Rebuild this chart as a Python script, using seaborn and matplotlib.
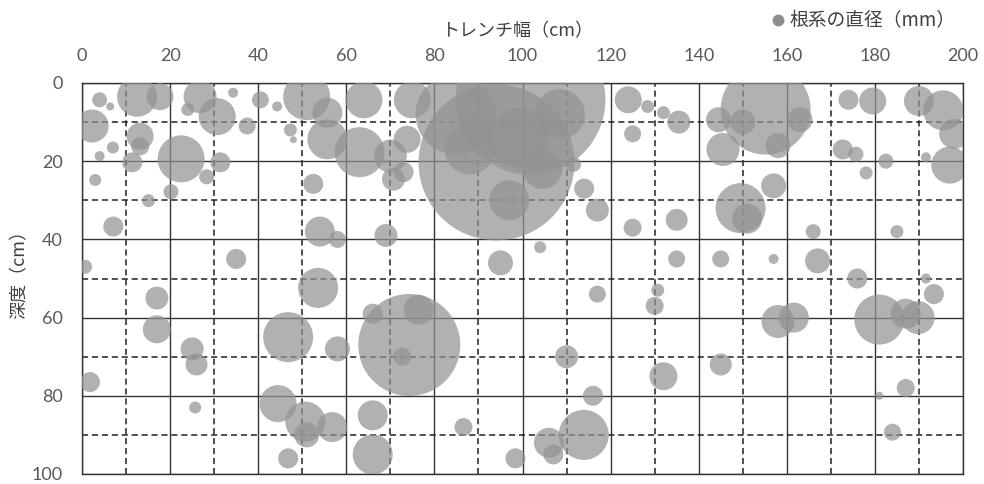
import numpy as np
import pandas as pd
import matplotlib
matplotlib.use("Agg")
import matplotlib.pyplot as plt
from matplotlib.lines import Line2D
from matplotlib.ticker import MultipleLocator
import seaborn as sns

# trench width position (cm)
width_cm = [4.0, 6.4, 2.3, 3.0, 7.1, 12.5, 17.7, 13.2, 7.0, 4.0, 11.4, 13.2, 22.5, 24.0, 26.8,
            30.7, 31.4, 28.3, 37.5, 34.3, 40.5, 47.3, 48.0, 44.3, 51.0, 55.7, 55.7, 63.0, 64.0,
            70.0, 73.8, 70.7, 73.0, 75.0, 15.1, 20.2, 35.0, 52.5, 54.0, 58.0, 69.0, 0.7,
            94.1, 101.8, 84.8, 99.0, 88.0, 104.5, 97.0, 111.6, 114.0, 117.0, 104.0, 95.0, 108.5,
            125.0, 135.5, 124.0, 128.4, 132.0, 145.5, 125.0, 135.0, 135.0, 145.0, 149.5, 151.0,
            157.0, 155.2, 144.5, 150.0, 158.0, 163.0, 174.0, 179.5, 172.7, 175.7, 182.5, 178.0,
            166.0, 185.0, 157.0, 167.0, 190.0, 195.5, 198.0, 191.6, 197.0,
            17.0, 17.0, 25.0, 26.0, 25.7, 1.8, 46.8, 44.5, 46.8, 53.6, 58.0, 74.3, 76.4, 66.0,
            72.7, 50.7, 56.8, 51.0, 66.0, 66.0, 86.6, 98.4,
            117.0, 130.7, 130.0, 110.0, 132.0, 145.0, 116.0, 113.9, 106.0, 107.0,
            176.0, 191.6, 193.4, 158.0, 161.6, 181.0, 189.8, 187.0, 187.0, 181.0, 184.0]

# depth (cm)
depth_cm = [4.3, 6.0, 11.0, 24.8, 36.7, 3.5, 3.5, 13.6, 16.5, 18.7, 20.3, 16.2, 19.4, 6.8, 3.5,
            8.6, 20.3, 24.0, 11.0, 2.5, 4.3, 12.0, 14.5, 6.0, 3.5, 14.4, 7.6, 17.7, 4.3,
            18.7, 14.4, 24.6, 22.8, 4.3, 30.1, 27.8, 45.0, 25.8, 38.0, 40.0, 39.0, 47.0,
            20.3, 4.3, 8.0, 14.0, 17.0, 22.0, 30.0, 20.8, 27.0, 32.5, 42.0, 46.0, 8.0,
            13.0, 10.0, 4.3, 6.0, 7.6, 17.0, 37.0, 35.0, 45.0, 45.0, 32.0, 34.7,
            26.3, 6.8, 9.4, 10.0, 16.0, 9.4, 4.3, 4.6, 17.0, 18.2, 20.0, 23.0,
            38.0, 38.0, 45.0, 45.5, 4.6, 7.0, 13.0, 19.0, 21.0,
            55.0, 63.0, 68.0, 72.0, 83.0, 76.5, 65.0, 82.0, 96.0, 52.4, 68.0, 67.0, 58.0, 59.0,
            70.0, 86.6, 88.0, 90.0, 85.0, 95.0, 88.0, 96.0,
            54.0, 53.0, 57.0, 70.0, 75.0, 72.0, 80.0, 90.0, 92.0, 95.0,
            50.0, 50.0, 54.0, 61.0, 60.0, 60.5, 60.0, 59.0, 78.0, 80.0, 89.3]

# root diameter (mm), bubble area is proportional to it
root_mm = [0.56, 0.16, 2.72, 0.36, 1.0, 4.0, 1.82, 1.82, 0.36, 0.25, 1.0, 0.81, 5.52, 0.42, 2.72,
           3.42, 1.0, 0.56, 0.72, 0.25, 0.72, 0.42, 0.12, 0.25, 5.52, 4.0, 2.25, 6.25, 3.42,
           2.72, 1.82, 1.32, 1.0, 3.42, 0.42, 0.56, 1.0, 1.0, 2.25, 0.72, 1.32, 0.49,
           60.8, 56.25, 16.0, 9.0, 6.25, 4.0, 4.0, 0.56, 1.0, 1.32, 0.36, 1.56, 6.25,
           0.72, 1.32, 1.82, 0.42, 0.42, 2.72, 0.81, 1.21, 0.72, 0.72, 6.25, 2.25,
           1.56, 20.25, 1.56, 1.56, 1.56, 1.56, 1.0, 1.82, 1.0, 0.56, 0.56, 0.42,
           0.56, 0.42, 0.25, 1.56, 2.25, 4.0, 2.25, 0.25, 3.42,
           1.32, 1.96, 1.32, 1.21, 0.36, 1.0, 6.25, 3.42, 1.0, 4.0, 1.56, 26.0, 2.25, 1.0,
           0.81, 4.0, 2.25, 1.56, 2.25, 4.0, 0.81, 1.0,
           0.72, 0.42, 0.81, 1.32, 1.96, 1.21, 1.0, 6.25, 2.25, 1.0,
           1.0, 0.25, 1.0, 2.72, 2.25, 6.25, 2.72, 2.25, 0.81, 0.16, 0.72]

df = pd.DataFrame({"x": width_cm, "y": depth_cm, "d": root_mm})

sns.set_style("white")
plt.rcParams["font.family"] = ["Noto Sans CJK JP", "DejaVu Sans"]

fig = plt.figure(figsize=(9.84, 4.84), dpi=100)
ax = fig.add_axes([82 / 984, 1 - 474 / 484, 881 / 984, 391 / 484])

# area proportional to value: 1 unit = 20 px diameter
dmax = max(root_mm)
smax = (0.72 * 20) ** 2 * dmax
sns.scatterplot(data=df, x="x", y="y", size="d", sizes=(0, smax), size_norm=(0, dmax),
                color="#939393", alpha=0.72, linewidth=0, legend=False, ax=ax, zorder=3)

ax.set_xlim(0, 200)
ax.set_ylim(100, 0)
ax.xaxis.tick_top()
ax.xaxis.set_major_locator(MultipleLocator(20))
ax.yaxis.set_major_locator(MultipleLocator(20))
ax.xaxis.set_minor_locator(MultipleLocator(10))
ax.yaxis.set_minor_locator(MultipleLocator(10))
ax.grid(which="major", color="#333333", lw=1.0, ls="-", zorder=1)
ax.grid(which="minor", color="#222222", lw=1.1, ls=(0, (4, 2.5)), zorder=1)
ax.set_axisbelow(True)
ax.tick_params(which="both", length=0)
ax.tick_params(axis="x", pad=14, labelsize=13, colors="#595959")
ax.tick_params(axis="y", pad=14, labelsize=13, colors="#595959")
for lab in ax.get_xticklabels() + ax.get_yticklabels():
    lab.set_family(["Lato", "DejaVu Sans"])
for s in ax.spines.values():
    s.set_color("#333333")
    s.set_linewidth(1.0)
ax.set_xlabel("")
ax.set_ylabel("")

fig.text(517 / 984, 1 - 31 / 484, "トレンチ幅（cm）", ha="center", va="center",
         fontsize=13, color="#404040")
fig.text(20 / 984, 1 - 270 / 484, "深度（cm）", ha="center", va="center", rotation=90,
         fontsize=13, color="#404040")

h = Line2D([], [], marker="o", ls="", color="#8c8c8c", markersize=7.5)
fig.legend([h], ["根系の直径（mm）"], loc="center right", bbox_to_anchor=(972 / 984, 1 - 21 / 484),
           frameon=False, fontsize=13.5, handletextpad=0.1, handlelength=1.0, labelcolor="#404040")

fig.savefig("out.png", dpi=100)
